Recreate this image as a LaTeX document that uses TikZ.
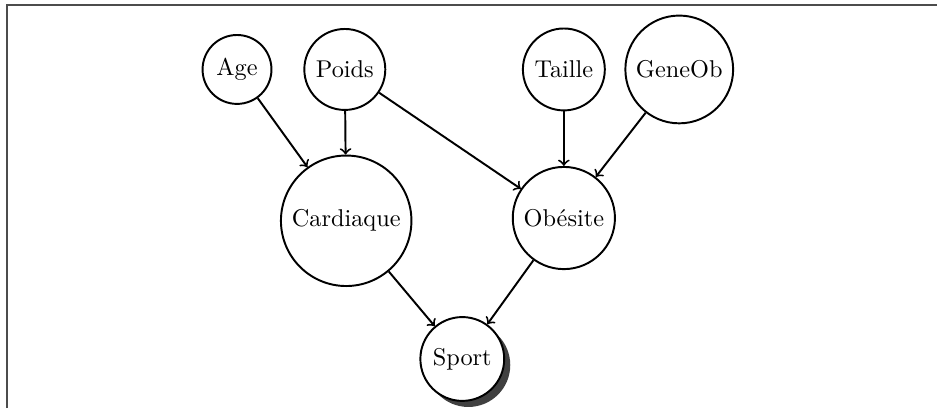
\documentclass[tikz,border=0pt]{standalone}
\usetikzlibrary{shadows}

\begin{document}
\begin{tikzpicture}[thick,
    var/.style={circle, draw, fill=white},
    link/.style={->}]
    \useasboundingbox (0,0) rectangle (13.56,5.905);

    % Frame
    \draw[black!70, line width=0.8pt] (0.106,0) -- (0.106,5.833) -- (13.56,5.833);

    % Causes
    \node[var] (age)    at (3.43,4.9) {Age};
    \node[var] (poids)  at (4.99,4.9) {Poids};
    \node[var] (taille) at (8.16,4.9) {Taille};
    \node[var] (geneob) at (9.83,4.9) {GeneOb};

    % Intermediate variables
    \node[var] (cardiaque) at (5.01,2.71) {Cardiaque};
    \node[var] (obesite)   at (8.16,2.75) {Obésite};

    % Target
    \node[var, drop shadow={shadow xshift=2.5pt, shadow yshift=-2.5pt,
        fill=black!75, opacity=1}] (sport) at (6.69,0.71) {Sport};

    % Edges
    \draw[link] (age) -- (cardiaque);
    \draw[link] (poids) -- (cardiaque);
    \draw[link] (poids) -- (obesite);
    \draw[link] (taille) -- (obesite);
    \draw[link] (geneob) -- (obesite);
    \draw[link] (cardiaque) -- (sport);
    \draw[link] (obesite) -- (sport);
\end{tikzpicture}
\end{document}
